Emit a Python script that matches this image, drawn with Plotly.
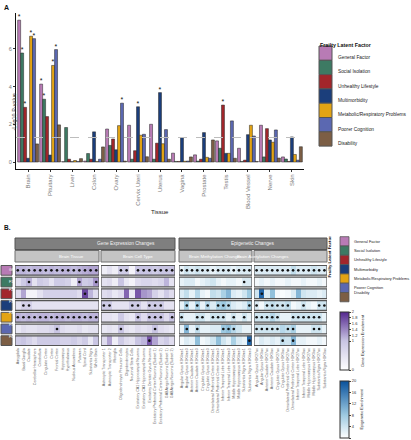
import plotly.graph_objects as go

W, H = 411, 440
def fx(x): return x / W
def fy(y): return 1 - y / H

FONT = "Liberation Sans, Arial, Helvetica, sans-serif"

# ---------------- data ----------------
factors = ["General Factor", "Social Isolation", "Unhealthy Lifestyle", "Multimorbidity",
           "Metabolic/Respiratory Problems", "Poorer Cognition", "Disability"]
codes = ["GF", "F1", "F2", "F3", "F4", "F5", "F6"]
colors = ["#B87BB5", "#3D7A63", "#A2262B", "#1B3E7B", "#E3A414", "#5B68B1", "#7C5E45"]

tissues = ["Brain", "Pituitary", "Liver", "Colon", "Ovary", "Cervix Uteri", "Uterus",
           "Vagina", "Prostate", "Testis", "Blood Vessel", "Nerve", "Skin"]

gf_p  = [7.52, 4.13, 0.02, 0.05, 1.75, 1.95, 2.00, 0.47, 0.38, 1.12, 0.73, 1.95, 0.27]
si_p  = [5.78, 3.33, 1.83, 0.45, 0.88, 0.15, 0.15, 0.03, 0.05, 0.73, 0.03, 0.27, 0.16]
ul_p  = [2.90, 2.41, 0.15, 0.15, 1.22, 0.60, 1.00, 0.03, 0.15, 3.02, 0.10, 1.77, 0.03]
mm_p  = [0.20, 0.37, 0.02, 1.60, 0.65, 2.93, 3.68, 1.30, 1.56, 0.46, 1.45, 1.17, 1.33]
mr_p  = [6.67, 5.12, 0.08, 0.03, 1.93, 1.42, 0.97, 0.04, 0.25, 0.46, 1.95, 1.05, 0.40]
pc_p  = [6.54, 5.96, 0.03, 0.15, 3.12, 1.47, 1.72, 0.05, 0.20, 2.18, 1.38, 1.70, 0.10]
dis_p = [0.96, 1.97, 0.18, 0.80, 0.05, 0.28, 0.15, 0.27, 1.17, 0.20, 0.03, 0.21, 0.81]

gf_sig  = ["Brain", "Pituitary"]
si_sig  = ["Brain", "Pituitary"]
ul_sig  = ["Brain", "Testis"]
mm_sig  = ["Cervix Uteri", "Uterus"]
mr_sig  = ["Brain", "Pituitary"]
pc_sig  = ["Brain", "Pituitary", "Ovary"]
dis_sig = []

threshold = 1.3  # -log10(0.05)

# heatmap column labels
brain_tissue = ["Amygdala", "Basal Ganglia", "Caudate", "Cerebellar Hemisphere", "Cerebellum",
                "Cingulate Cortex", "Cortex", "Frontal Cortex", "Hippocampus", "Hypothalamus",
                "Nucleus Accumbens", "Putamen", "Spinal Cord", "Substantia Nigra", "Whole Brain"]
brain_cell = ["Astrocytic Transporter 1", "Astrocytic Transporter 2", "Microglia",
              "Oligodendrocyte Precursor Cells", "Oligodendrocytes", "Neuronal Stem Cells",
              "Excitatory CA1 Hippocampal Neurons", "Excitatory CA3 Hippocampal Neurons",
              "Excitatory Dentate Gyrus Neurons", "Excitatory Prefrontal Cortex Neurons (Subset 1)",
              "Excitatory Prefrontal Cortex Neurons (Subset 2)", "GABAergic Neurons (Subset 1)",
              "GABAergic Neurons (Subset 2)"]
regions = ["Angular Gyrus", "Anterior Caudate", "Cingulate Gyrus",
           "Dorsolateral Prefrontal Cortex", "Inferior Temporal Lobe",
           "Middle Hippocampus", "Substantia Nigra"]
brain_meth = [f"{r} {m}" for r in regions for m in ("H3K4me1", "H3K4me3")]
brain_acet = [f"{r} {m}" for r in regions for m in ("H3K27ac", "H3K9ac")]

# gene expression enrichment (rows GF..F6)
tissue_enr = [
    [1.1, 1.1, 1.05, 1.1, 1.1, 1.05, 1.1, 1.05, 1.1, 1.1, 1.05, 1.1, 1.15, 1.2, 1.2],
    [0.6, 0.9, 1.1, 0.5, 0.9, 0.8, 0.5, 0.9, 0.9, 0.8, 0.3, 1.2, 0.9, 1.0, 1.3],
    [0.6, 1.2, 0.2, 0.2, 0.5, 0.8, 0.8, 0.8, 0.8, 0.8, 0.8, 0.6, 1.8, 1.1, 0.6],
    [0.5, 0.8, 0.8, 0.5, 0.5, 0.5, 0.5, 0.5, 0.5, 0.5, 0.5, 0.5, 0.5, 0.5, 0.5],
    [1.1, 1.05, 1.1, 1.05, 1.1, 1.1, 1.05, 1.1, 1.1, 1.05, 1.1, 1.1, 1.05, 1.1, 1.1],
    [0.4, 0.6, 0.5, 0.5, 0.6, 0.6, 0.7, 1.0, 0.6, 0.5, 0.5, 0.6, 0.4, 0.5, 0.5],
    [0.9, 1.0, 0.8, 0.6, 0.9, 0.9, 0.9, 0.9, 0.8, 0.8, 0.9, 0.7, 0.9, 0.4, 1.0],
]
cell_enr = [
    [0.3, 0.5, 0.3, 0.9, 0.9, 0.2, 1.0, 1.0, 1.0, 0.9, 1.0, 1.0, 1.0],
    [0.5, 0.6, 0.3, 1.0, 0.4, 0.2, 0.6, 0.7, 0.7, 0.6, 0.7, 1.1, 0.5],
    [0.6, 0.7, 0.4, 0.6, 1.6, 0.4, 1.7, 1.3, 1.2, 0.8, 0.5, 0.9, 0.6],
    [0.9, 0.9, 0.5, 0.5, 0.5, 0.9, 0.9, 0.5, 0.9, 0.9, 0.9, 0.5, 0.5],
    [0.5, 0.5, 0.4, 0.9, 0.5, 0.4, 1.0, 0.6, 1.0, 1.0, 1.0, 0.6, 1.0],
    [0.4, 0.5, 0.4, 1.0, 0.5, 0.4, 0.6, 0.5, 0.6, 1.0, 0.6, 0.5, 0.4],
    [0.6, 1.2, 0.3, 0.9, 0.6, 0.5, 1.0, 1.1, 1.7, 1.2, 0.7, 0.9, 0.6],
]
# epigenetic enrichment (rows GF..F6)
meth_enr = [
    [2, 4, 3, 4, 3, 3, 2, 3, 3, 3, 2, 3, 3, 3],
    [2, 3, 3, 1, 2, 3, 4, 2, 1, 2, 2, 1, 3, 3],
    [3, 5, 2, 6, 2, 1, 5, 4, 7, 10, 3, 2, 4, 8],
    [2, 7, 2, 7, 2, 6, 3, 7, 8, 6, 3, 2, 3, 7],
    [4, 2, 2, 4, 4, 2, 4, 4, 4, 2, 4, 2, 4, 2],
    [2, 10, 2, 5, 2, 2, 3, 3, 8, 9, 6, 4, 2, 2],
    [1, 3, 2, 9, 1, 2, 4, 9, 4, 2, 7, 3, 2, 18],
]
acet_enr = [
    [3, 3, 3, 3, 3, 3, 3, 5, 3, 3, 3, 4, 3, 3],
    [1, 2, 1, 2, 1, 1, 2, 1, 1, 2, 1, 1, 2, 1],
    [4, 18, 3, 9, 1, 0.5, 1, 3, 10, 4, 3, 3, 2, 3],
    [3, 1, 4, 5, 4, 4, 5, 1, 2, 4, 2, 1, 4, 4],
    [4, 4, 4, 6, 4, 2, 2, 4, 4, 4, 4, 4, 4, 2],
    [4, 4, 4, 4, 4, 6, 5, 7, 2, 2, 2, 4, 4, 2],
    [1, 3, 2, 3, 2, 5, 4, 10, 2, 2, 1, 1, 2, 1],
]
# significant cells (column indices) per row
tissue_sig = [list(range(15)), [2, 11, 14], [12], [1, 2], list(range(15)), [7], []]
cell_sig = [[3, 4, 6, 7, 8, 9, 10, 11, 12], [], [], [0, 1, 5, 6, 8, 9, 10],
            [6, 8, 9, 10, 12], [3, 9], [8]]
meth_sig = [list(range(14)), [12], [], [1, 3, 5, 7, 8, 9, 13],
            [0, 3, 4, 6, 7, 8, 10, 12], [1, 3, 8, 9, 10], [13]]
acet_sig = [list(range(14)), [], [1], [0, 2, 3, 4, 5, 6, 9, 12, 13],
            [0, 1, 2, 3, 4, 7, 8, 9, 10, 11, 12], [0, 1, 2, 3, 4, 6, 7, 11, 12], [5, 7]]

gene_ticks = [0, 1, 1.2, 1.4, 1.6, 1.8, 2]
epi_ticks = [0, 4, 8, 12, 16, 20]

# ---------------- figure ----------------
fig = go.Figure()

bar_series = [gf_p, si_p, ul_p, mm_p, mr_p, pc_p, dis_p]
bar_sig = [gf_sig, si_sig, ul_sig, mm_sig, mr_sig, pc_sig, dis_sig]
for name, col, vals, sig in zip(factors, colors, bar_series, bar_sig):
    fig.add_trace(go.Bar(
        x=tissues, y=vals, name=name, marker=dict(color=col, line=dict(color="#222222", width=0.5)),
        text=["*" if t in sig else "" for t in tissues], textposition="outside",
        textfont=dict(size=7, color="#111111", family=FONT), constraintext="none",
        cliponaxis=False, showlegend=False, xaxis="x", yaxis="y"))

GREY = "#7a7a7a"
fig.update_layout(
    xaxis=dict(domain=[fx(16), fx(304)], range=[-0.55, 12.55], showline=True, linecolor="#111",
               linewidth=1, ticks="outside", ticklen=2, tickcolor="#333", tickangle=-90,
               tickfont=dict(size=6, color=GREY, family=FONT), showgrid=False, zeroline=False,
               anchor="y", automargin=False),
    yaxis=dict(domain=[fy(169), fy(13)], range=[-0.37, 7.9], showline=True, linecolor="#111",
               linewidth=1, ticks="outside", ticklen=2, tickcolor="#333",
               tickvals=[0, 2, 4, 6], tickfont=dict(size=5.5, color=GREY, family=FONT),
               showgrid=False, zeroline=False, anchor="x", automargin=False),
    barmode="group", bargap=0.05, bargroupgap=0,
)
shapes = [dict(type="line", xref="x domain", yref="y", x0=0, x1=1, y0=threshold, y1=threshold,
               line=dict(color="#bdbdbd", width=1, dash="dash"), layer="above")]
annotations = [
    dict(text="<b>A</b>", x=fx(2), y=fy(2), xref="paper", yref="paper", xanchor="left",
         yanchor="top", showarrow=False, font=dict(size=7, color="#111", family=FONT)),
    dict(text="-Log10 P-value", x=fx(8), y=fy(92), xref="paper", yref="paper", textangle=-90,
         showarrow=False, font=dict(size=5.5, color="#333", family=FONT)),
    dict(text="Tissue", x=fx(160), y=fy(212), xref="paper", yref="paper", showarrow=False,
         font=dict(size=6, color="#222", family=FONT)),
    dict(text="<b>B.</b>", x=fx(2), y=fy(222), xref="paper", yref="paper", xanchor="left",
         yanchor="top", showarrow=False, font=dict(size=6.5, color="#111", family=FONT)),
]

# legend A
annotations.append(dict(text="<b>Frailty Latent Factor</b>", x=fx(318), y=fy(40), xref="paper",
                        yref="paper", xanchor="left", showarrow=False,
                        font=dict(size=5.3, color="#111", family=FONT)))
for i, (name, col) in enumerate(zip(factors, colors)):
    y0 = 46 + i * 14.3
    shapes.append(dict(type="rect", xref="paper", yref="paper", x0=fx(319), x1=fx(332),
                       y0=fy(y0 + 14.3), y1=fy(y0), fillcolor=col,
                       line=dict(color="#555", width=1)))
    annotations.append(dict(text=name, x=fx(336), y=fy(y0 + 7.15), xref="paper", yref="paper",
                            xanchor="left", showarrow=False,
                            font=dict(size=4.8, color="#222", family=FONT)))

# ---------------- heatmaps ----------------
panels = [
    (brain_tissue, tissue_enr, tissue_sig, "coloraxis", 15, 99),
    (brain_cell, cell_enr, cell_sig, "coloraxis", 101, 175),
    (brain_meth, meth_enr, meth_sig, "coloraxis2", 179, 252),
    (brain_acet, acet_enr, acet_sig, "coloraxis2", 254, 327),
]
ROW_TOP, ROW_BOT = 264.5, 346.5
row_h = (ROW_BOT - ROW_TOP) / 7
g = 1.0 / row_h
for k, (labels, z, sig, cax, xl, xr) in enumerate(panels):
    ax = k + 2
    n = len(labels)
    fig.add_trace(go.Heatmap(z=z, x=list(range(n)), y=list(range(7)), coloraxis=cax,
                             ygap=2, xgap=0, xaxis=f"x{ax}", yaxis=f"y{ax}", hoverinfo="skip"))
    sx, sy = [], []
    for r, cols in enumerate(sig):
        for c in cols:
            sx.append(c)
            sy.append(r)
    fig.add_trace(go.Scatter(x=sx, y=sy, mode="markers", marker=dict(size=2.6, color="#111"),
                             showlegend=False, xaxis=f"x{ax}", yaxis=f"y{ax}", hoverinfo="skip"))
    fig.layout[f"xaxis{ax}"] = dict(domain=[fx(xl), fx(xr)], range=[-0.5, n - 0.5],
                                    tickvals=list(range(n)), ticktext=labels, tickangle=-90,
                                    tickfont=dict(size=3.6, color="#666", family=FONT),
                                    ticks="", showgrid=False, zeroline=False, showline=False,
                                    anchor=f"y{ax}", automargin=False)
    fig.layout[f"yaxis{ax}"] = dict(domain=[fy(ROW_BOT), fy(ROW_TOP)], range=[6.5, -0.5],
                                    showticklabels=False, showgrid=False, zeroline=False,
                                    ticks="", anchor=f"x{ax}", automargin=False)
    for r in range(7):
        shapes.append(dict(type="rect", xref=f"x{ax}", yref=f"y{ax}", x0=-0.5, x1=n - 0.5,
                           y0=r - 0.5 + g, y1=r + 0.5 - g, line=dict(color="#555", width=1.2),
                           fillcolor="rgba(0,0,0,0)"))

# strips
top_strips = [("Gene Expression Changes", 15, 175), ("Epigenetic Changes", 179, 327)]
sub_strips = [("Brain Tissue", 15, 99), ("Brain Cell Type", 101, 175),
              ("Brain Methylation Changes", 179, 252), ("Brain Acetylation Changes", 254, 327)]
for text, a, b in top_strips:
    shapes.append(dict(type="rect", xref="paper", yref="paper", x0=fx(a), x1=fx(b), y0=fy(249.5),
                       y1=fy(238), fillcolor="#7f7f7f", line=dict(color="#555", width=1)))
    annotations.append(dict(text=text, x=fx((a + b) / 2), y=fy(243.8), xref="paper", yref="paper",
                            showarrow=False, font=dict(size=4.8, color="#f2f2f2", family=FONT)))
for text, a, b in sub_strips:
    shapes.append(dict(type="rect", xref="paper", yref="paper", x0=fx(a), x1=fx(b), y0=fy(262),
                       y1=fy(250.5), fillcolor="#c4c4c4", line=dict(color="#6e6e6e", width=1)))
    annotations.append(dict(text=text, x=fx((a + b) / 2), y=fy(256.3), xref="paper", yref="paper",
                            showarrow=False, font=dict(size=4.4, color="#ffffff", family=FONT)))

# row labels
for r, (code, col) in enumerate(zip(codes, colors)):
    t = ROW_TOP + r * row_h + 1
    b = ROW_TOP + (r + 1) * row_h - 1
    shapes.append(dict(type="rect", xref="paper", yref="paper", x0=fx(1), x1=fx(12), y0=fy(b),
                       y1=fy(t), fillcolor=col, line=dict(color="#555", width=1)))
    annotations.append(dict(text=code, x=fx(6.5), y=fy((t + b) / 2), xref="paper", yref="paper",
                            showarrow=False, font=dict(size=3.8, color="#ffffff", family=FONT)))

# legend B
annotations.append(dict(text="<b>Frailty Latent Factor</b>", x=fx(333), y=fy(257), xref="paper",
                        yref="paper", textangle=-90, showarrow=False,
                        font=dict(size=4.3, color="#111", family=FONT)))
for i, (name, col) in enumerate(zip(factors, colors)):
    y0 = 236.7 + i * 9.3
    shapes.append(dict(type="rect", xref="paper", yref="paper", x0=fx(340), x1=fx(349),
                       y0=fy(y0 + 9.3), y1=fy(y0), fillcolor=col,
                       line=dict(color="#555", width=0.8)))
    annotations.append(dict(text=name, x=fx(352), y=fy(y0 + 4.65), xref="paper", yref="paper",
                            xanchor="left", showarrow=False,
                            font=dict(size=3.9, color="#222", family=FONT)))

fig.update_layout(
    coloraxis=dict(cmin=0, cmax=2, colorscale=[[0, "#ffffff"], [0.5, "#c9c5e3"], [1, "#54278f"]],
                   colorbar=dict(x=fx(340), xanchor="left", y=fy(341), yanchor="middle",
                                 len=58 / H, lenmode="fraction", thickness=9,
                                 thicknessmode="pixels", outlinewidth=1, outlinecolor="#333",
                                 tickvals=gene_ticks, ticks="outside", ticklen=2,
                                 tickfont=dict(size=4, color="#333", family=FONT),
                                 title=dict(text="Gene Expression Enrichment", side="right",
                                            font=dict(size=4, color="#222", family=FONT)),
                                 xpad=0, ypad=0)),
    coloraxis2=dict(cmin=0, cmax=20, colorscale=[[0, "#ffffff"], [0.4, "#9ecae1"], [1, "#08519c"]],
                    colorbar=dict(x=fx(340), xanchor="left", y=fy(409.5), yanchor="middle",
                                  len=57 / H, lenmode="fraction", thickness=9,
                                  thicknessmode="pixels", outlinewidth=1, outlinecolor="#333",
                                  tickvals=epi_ticks, ticks="outside", ticklen=2,
                                  tickfont=dict(size=4, color="#333", family=FONT),
                                  title=dict(text="Epigenetic Enrichment", side="right",
                                             font=dict(size=4, color="#222", family=FONT)),
                                  xpad=0, ypad=0)),
    shapes=shapes, annotations=annotations,
    width=W, height=H, margin=dict(l=0, r=0, t=0, b=0),
    paper_bgcolor="white", plot_bgcolor="white", showlegend=False,
    font=dict(family=FONT),
)

fig.write_html("out.html", config={"displayModeBar": False, "staticPlot": True},
               post_script="document.body.style.margin='0';document.body.style.padding='0';"
                           "document.body.style.overflow='hidden';")
